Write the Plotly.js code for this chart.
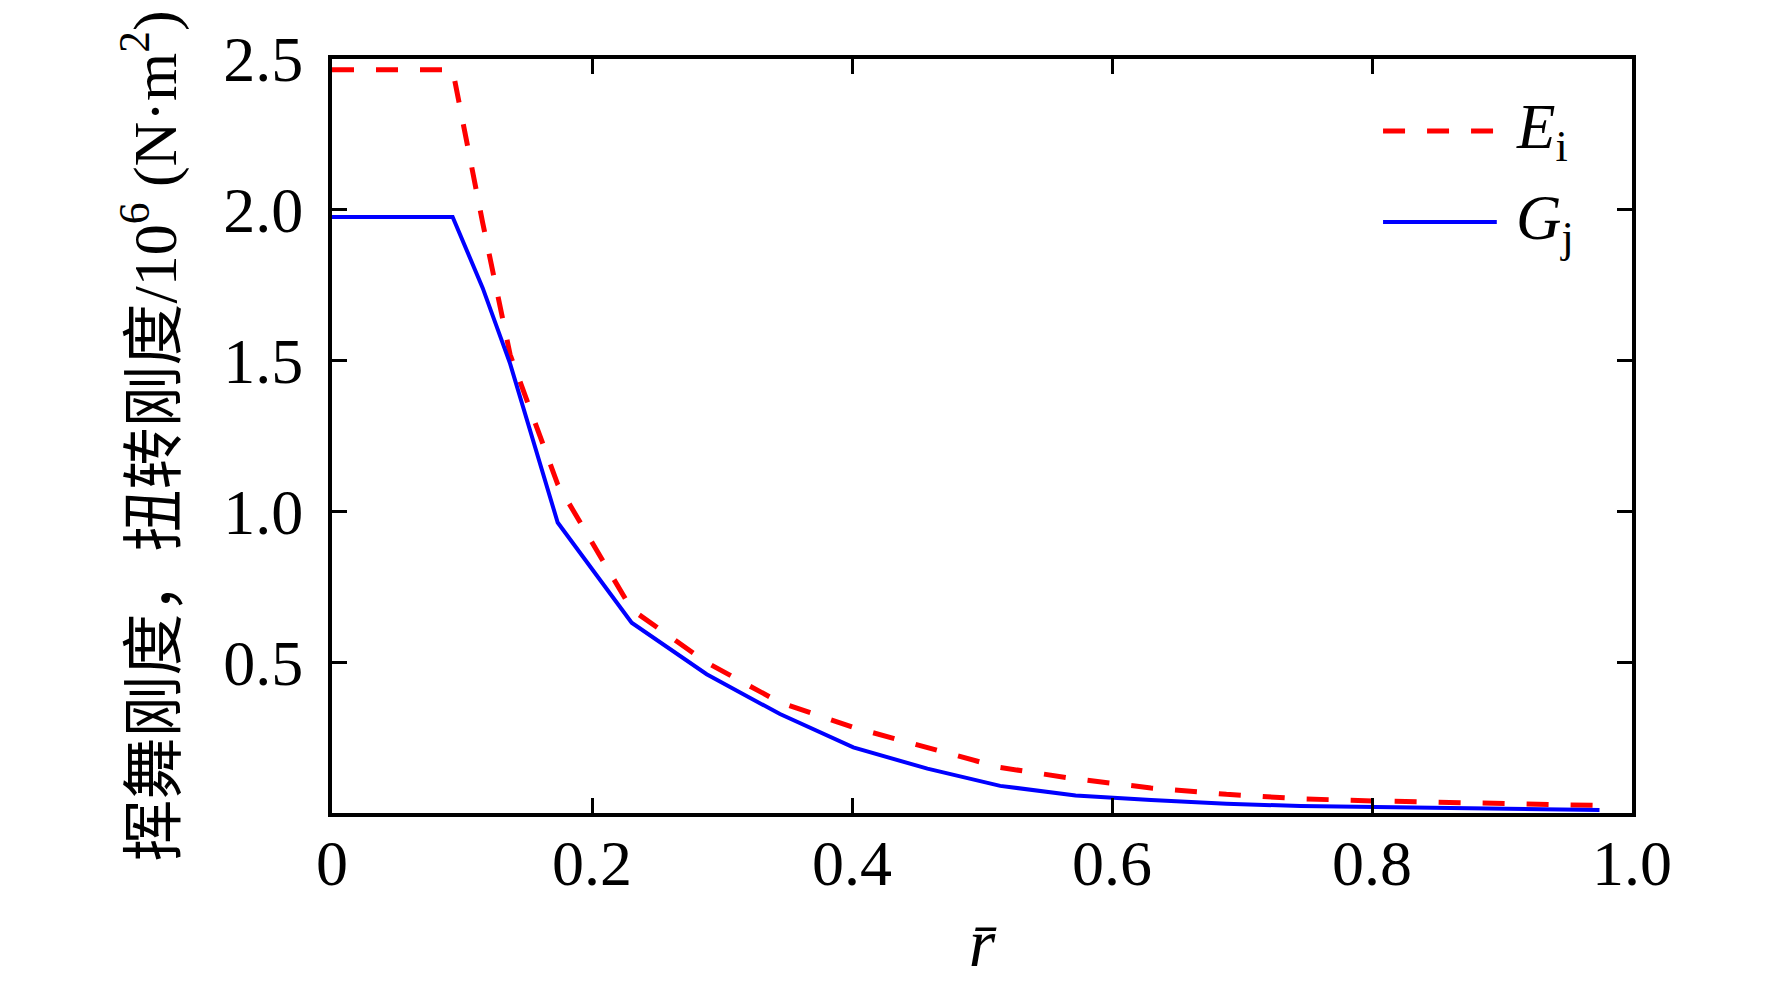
<!DOCTYPE html>
<html>
<head>
<meta charset="utf-8">
<script src="https://cdn.plot.ly/plotly-3.0.1.min.js"></script>
<style>
  html, body { margin: 0; padding: 0; background: #fff; }
</style>
</head>
<body>
<div id="myDiv"></div>
<script>
// radial position (r bar) and the two stiffness curves
let rBar = [0, 0.0928, 0.1159, 0.137, 0.1736, 0.2305, 0.2882, 0.3446, 0.401, 0.458, 0.514, 0.572, 0.63, 0.688, 0.745, 0.802, 0.86, 0.917, 0.975]
let Ei = [2.464, 2.464, 1.957, 1.52, 1.09, 0.675, 0.499, 0.3665, 0.284, 0.2175, 0.151, 0.113, 0.083, 0.062, 0.047, 0.040, 0.034, 0.029, 0.025]
let Gj = [1.976, 1.976, 1.741, 1.49, 0.963, 0.631, 0.460, 0.328, 0.2175, 0.147, 0.090, 0.058, 0.043, 0.031, 0.023, 0.019, 0.015, 0.012, 0.010]

// tick labels
let xTicks = [0, 0.2, 0.4, 0.6, 0.8, 1.0]
let xTickText = ['0', '0.2', '0.4', '0.6', '0.8', '1.0']
let yTicks = [0.5, 1.0, 1.5, 2.0, 2.5]
let yTickText = ['0.5', '1.0', '1.5', '2.0', '2.5']

// legend names
let names = ['<i>E</i><sub>i</sub>', '<i>G</i><sub>j</sub>']

let serif = 'Liberation Serif, Noto Sans CJK SC, serif'

var trace1 = {
  x: rBar,
  y: Ei,
  mode: 'lines',
  type: 'scatter',
  name: names[0],
  line: {color: '#ff0000', width: 5, dash: '22px,22px'},
  showlegend: false
};

var trace2 = {
  x: rBar,
  y: Gj,
  mode: 'lines',
  type: 'scatter',
  name: names[1],
  line: {color: '#0000ff', width: 4},
  showlegend: false
};

// axis style shared by both axes
function axisStyle (extra) {
  let base = {
    showline: true,
    linewidth: 4,
    linecolor: '#000',
    mirror: 'allticks',
    ticks: 'inside',
    ticklen: 15,
    tickwidth: 3,
    tickcolor: '#000',
    showgrid: false,
    zeroline: false,
    tickfont: {family: serif, size: 64, color: '#000'}
  }
  return Object.assign(base, extra)
}

// hand-made legend so the line samples are long like the original
let legendY = [0.9045, 0.7838]
let shapes = [
  {type: 'line', xref: 'paper', yref: 'paper', x0: 0.8085, x1: 0.896, y0: legendY[0], y1: legendY[0],
   line: {color: '#ff0000', width: 5, dash: '22px,22px'}},
  {type: 'line', xref: 'paper', yref: 'paper', x0: 0.8085, x1: 0.896, y0: legendY[1], y1: legendY[1],
   line: {color: '#0000ff', width: 4}}
]
let annotations = names.map((n, i) => ({
  xref: 'paper', yref: 'paper', x: 0.909, y: legendY[i],
  xanchor: 'left', yanchor: 'middle', showarrow: false,
  text: n, font: {family: serif, size: 63, color: '#000'}
}))

var layout = {
  width: 1772,
  height: 991,
  margin: {l: 332, r: 140, t: 59, b: 178},
  paper_bgcolor: '#fff',
  plot_bgcolor: '#fff',
  showlegend: false,
  xaxis: axisStyle({
    range: [0, 1],
    tickvals: xTicks,
    ticktext: xTickText,
    ticklabelstandoff: -9,
    title: {text: '<i>r̄</i>', font: {family: serif, size: 68, color: '#000'}, standoff: 22}
  }),
  yaxis: axisStyle({
    range: [0, 2.5],
    tickvals: yTicks,
    ticktext: yTickText,
    ticklabelstandoff: 12,
    title: {text: '挥舞刚度，扭转刚度/10<sup>6</sup> (N·m<sup>2</sup>)', font: {family: serif, size: 62, color: '#000'}, standoff: 28}
  }),
  shapes: shapes,
  annotations: annotations
};

Plotly.newPlot('myDiv', [trace1, trace2], layout, {displayModeBar: false, staticPlot: true});
</script>
</body>
</html>
